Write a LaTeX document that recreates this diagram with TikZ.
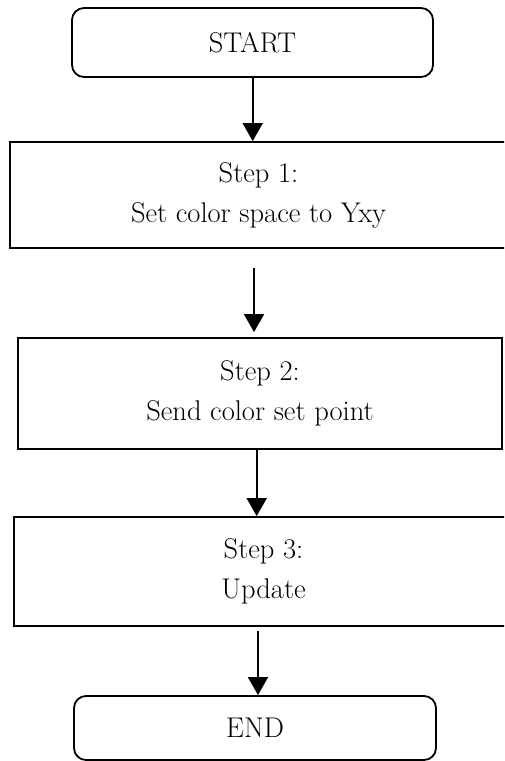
\documentclass[tikz,border=0pt]{standalone}
\usetikzlibrary{arrows.meta}
\begin{document}
\begin{tikzpicture}[x=1pt,y=-1pt,
  every node/.style={font=\fontsize{28.5}{40}\selectfont},
  stepbox/.style={draw, line width=1.8pt, inner sep=0pt, align=center,
    minimum width=#1},
  termbox/.style={stepbox=#1, rounded corners=12pt},
  flow/.style={line width=1.8pt, -{Triangle[width=20pt,length=18pt]}}]
\clip (0,0) rectangle (504,761);
\useasboundingbox (0,0) rectangle (504,761);

% process blocks
\node[termbox=361pt, minimum height=69pt] (start) at (252.5,42.5) {START};
\node[stepbox=497pt, minimum height=106pt] (s1) at (258.5,195)
  {Step 1:\\Set color space to Yxy};
\node[stepbox=484pt, minimum height=111pt] (s2) at (260,393.5)
  {Step 2:\\Send color set point};
\node[stepbox=499pt, minimum height=109pt] (s3) at (263.5,571.5)
  {Step 3:\\Update};
\node[termbox=362pt, minimum height=64pt] (end) at (255,728) {END};

% horizontal positions of the connectors
\coordinate (c1) at (252.7,0);
\coordinate (c2) at (254,0);
\coordinate (c3) at (256.7,0);
\coordinate (c4) at (258,0);

% connectors
\draw[flow] (start.south -| c1) -- (s1.north -| c1);
\draw[flow, shorten <=19pt, shorten >=5pt] (s1.south -| c2) -- (s2.north -| c2);
\draw[flow] (s2.south -| c3) -- (s3.north -| c3);
\draw[flow, shorten <=4pt] (s3.south -| c4) -- (end.north -| c4);
\end{tikzpicture}
\end{document}
